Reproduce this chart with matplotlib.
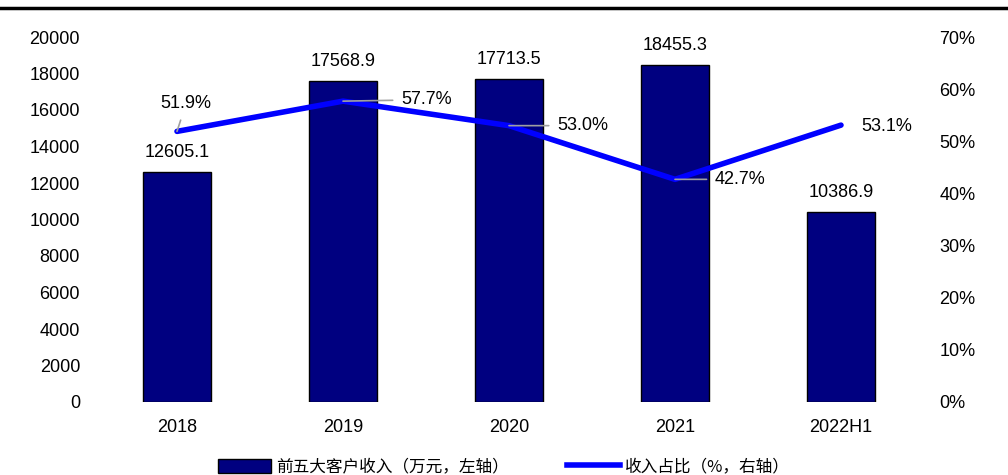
import matplotlib
matplotlib.use("Agg")
import matplotlib.pyplot as plt
from matplotlib.lines import Line2D
from matplotlib.patches import Patch

categories = ["2018", "2019", "2020", "2021", "2022H1"]
revenue = [12605.1, 17568.9, 17713.5, 18455.3, 10386.9]
share = [51.9, 57.7, 53.0, 42.7, 53.1]
bar_label = "前五大客户收入（万元，左轴）"
line_label = "收入占比（%，右轴）"

plt.rcParams['font.family'] = ['Liberation Sans', 'DejaVu Sans']

fig = plt.figure(figsize=(10.08, 4.75), dpi=100)
ax = fig.add_axes([94/1008, 1-402/475, (924-94)/1008, (402-37)/475])
ax2 = ax.twinx()

x = list(range(len(categories)))
ax.bar(x, revenue, width=0.41, color="#000080", edgecolor="black", linewidth=1, zorder=2)
ax.set_xlim(-0.5, len(categories) - 0.5)
ax.set_ylim(0, 20000)
ax.set_yticks(range(0, 20001, 2000))
ax.set_xticks(x)
ax.set_xticklabels(categories)
ax.tick_params(axis="both", length=0, labelsize=13)
ax.tick_params(axis="x", pad=12)
ax.tick_params(axis="y", pad=10)

ax2.plot(x, share, color="#0000FF", linewidth=4, solid_capstyle="round", zorder=3)
ax2.set_ylim(0, 70)
ax2.set_yticks(range(0, 71, 10))
ax2.set_yticklabels([f"{v}%" for v in range(0, 71, 10)])
ax2.tick_params(axis="y", length=0, labelsize=13, pad=11)
ax2.set_xlim(-0.5, len(categories) - 0.5)

for a in (ax, ax2):
    for s in a.spines.values():
        s.set_visible(False)

for i, v in enumerate(revenue):
    ax.annotate(f"{v:.1f}", (i, v), xytext=(0, 8), textcoords="offset points",
                ha="center", va="bottom", fontsize=13)

pct_offsets = [(6.5, 20), (60, 1), (53, 0), (47, 0), (33, -1)]
for i, v in enumerate(share):
    dx, dy = pct_offsets[i]
    arrow = None if i == len(share) - 1 else dict(arrowstyle="-", color="#A0A0A0", lw=1.2,
                                                   shrinkA=4, shrinkB=0)
    ax2.annotate(f"{v:.1f}%", (i, v), xytext=(dx, dy), textcoords="offset points",
                 ha="center", va="center", fontsize=13, arrowprops=arrow, zorder=4)

fig.add_artist(Line2D([0, 1], [1-8/475, 1-8/475], color="black", linewidth=2.5))

handles = [Patch(facecolor="#000080", edgecolor="black", label=bar_label),
           Line2D([0], [0], color="#0000FF", linewidth=4, label=line_label)]
fig.legend(handles=handles, loc="center", bbox_to_anchor=(0.5, 1-467/475), ncol=2,
           frameon=False, prop={"family": ["Noto Sans CJK SC", "DejaVu Sans"], "size": 12},
           handlelength=3.2, handleheight=0.9, columnspacing=3.5, handletextpad=0.3)

fig.savefig("out.png", dpi=100)
